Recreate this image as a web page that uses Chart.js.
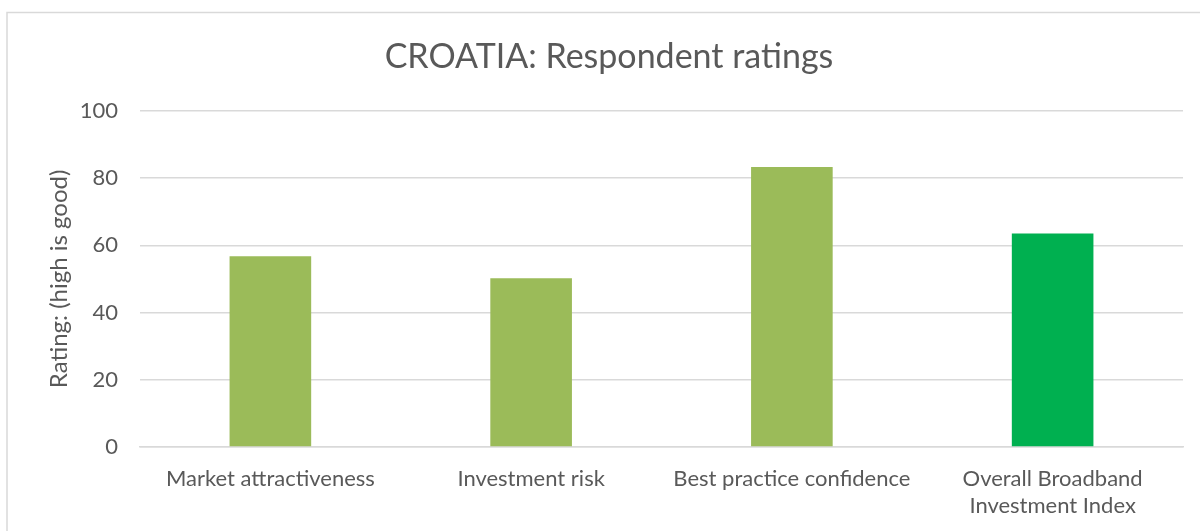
<!DOCTYPE html>
<html>
<head>
<meta charset="utf-8">
<title>CROATIA: Respondent ratings</title>
<script src="https://cdn.jsdelivr.net/npm/chart.js@4.4.1/dist/chart.umd.min.js"></script>
<style>
  html, body { margin: 0; padding: 0; background: #ffffff; }
  #wrap { width: 1200px; height: 531px; position: relative; }
</style>
</head>
<body>
<div id="wrap">
  <canvas id="myChart" width="1200" height="531"></canvas>
</div>
<script>
const categories = [
  "Market attractiveness",
  "Investment risk",
  "Best practice confidence",
  ["Overall Broadband", "Investment Index"],
];
const ratings = [56.7, 50.2, 83.3, 63.5];
const barColors = ["#9BBB59", "#9BBB59", "#9BBB59", "#00B050"];
const yTicks = [0, 20, 40, 60, 80, 100];

const textColor = "#595959";
const gridColor = "#D9D9D9";
const fontFamily = "Lato, 'Open Sans', sans-serif";

// light grey frame round the chart, like the office chart box
const frame = {
  id: "frame",
  beforeDraw(chart) {
    const ctx = chart.ctx;
    ctx.save();
    ctx.fillStyle = "#ffffff";
    ctx.fillRect(0, 0, chart.width, chart.height);
    ctx.strokeStyle = gridColor;
    ctx.lineWidth = 1.5;
    ctx.strokeRect(7, 12.5, chart.width + 10, chart.height + 10);
    ctx.restore();
  },
};

const ctx = document.getElementById("myChart").getContext("2d");

const myChart = new Chart(ctx, {
  type: "bar",
  data: {
    labels: categories,
    datasets: [
      {
        data: ratings,
        backgroundColor: barColors,
        borderWidth: 0,
        categoryPercentage: 1,
        barPercentage: 0.313,
      },
    ],
  },
  options: {
    responsive: false,
    animation: false,
    layout: { padding: { top: 0, right: 17, bottom: 0, left: 35 } },
    plugins: {
      legend: { display: false },
      tooltip: { enabled: false },
      title: {
        display: true,
        text: "CROATIA: Respondent ratings",
        color: textColor,
        font: { family: fontFamily, size: 34, weight: "normal" },
        padding: { top: 37, bottom: 33 },
      },
    },
    scales: {
      x: {
        grid: { display: false, drawTicks: false },
        border: { display: true, color: gridColor, width: 1.5 },
        ticks: {
          color: textColor,
          font: { family: fontFamily, size: 22, lineHeight: 1.2 },
          padding: 19,
          maxRotation: 0,
          autoSkip: false,
        },
        afterFit(scale) {
          scale.height = 84;
        },
      },
      y: {
        min: 0,
        max: 100,
        afterBuildTicks(scale) {
          scale.ticks = yTicks.map((v) => ({ value: v }));
        },
        grid: { color: gridColor, lineWidth: 1.5, drawTicks: false },
        border: { display: false },
        ticks: {
          color: textColor,
          font: { family: fontFamily, size: 22 },
          padding: 22,
        },
        title: {
          display: true,
          text: "Rating: (high is good)",
          color: textColor,
          font: { family: fontFamily, size: 24, weight: "normal" },
          padding: { top: 10, bottom: 0 },
        },
        afterFit(scale) {
          scale.width = 105;
        },
      },
    },
  },
  plugins: [frame],
});
</script>
</body>
</html>
